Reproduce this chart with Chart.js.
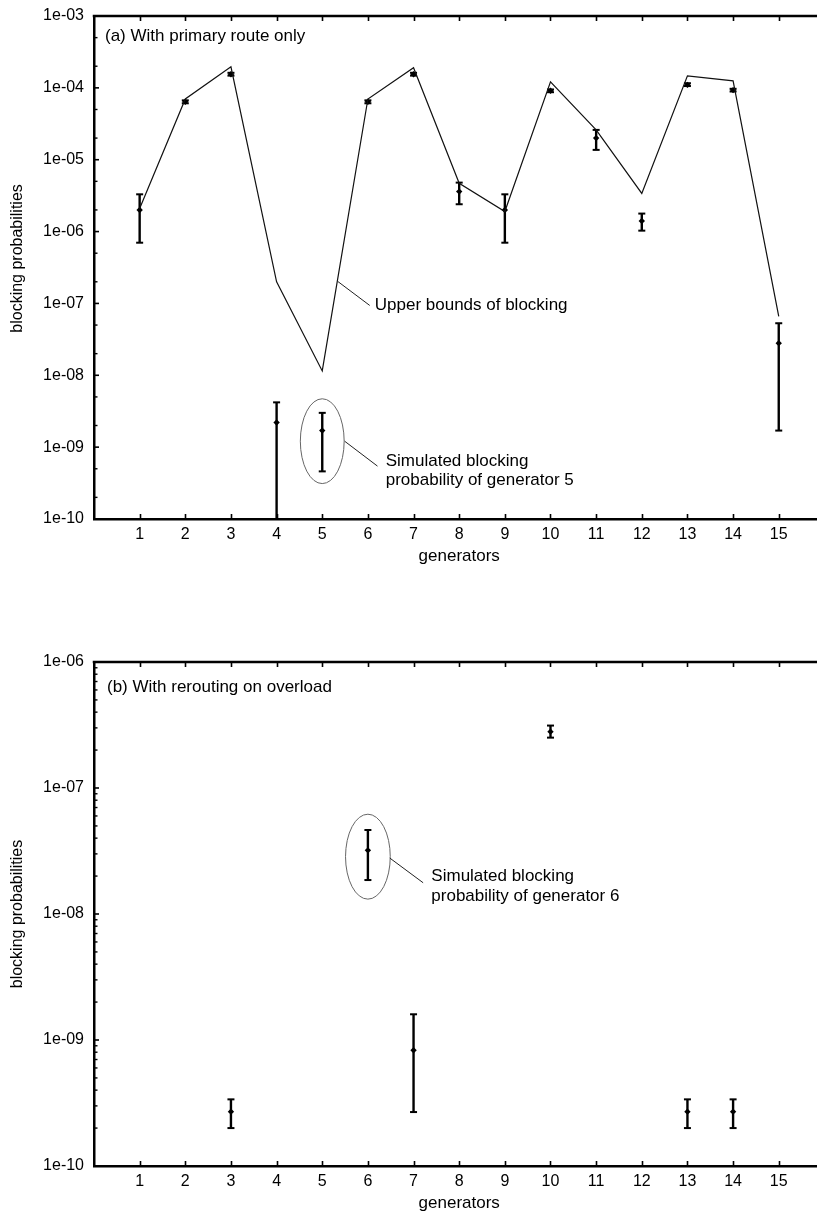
<!DOCTYPE html>
<html>
<head>
<meta charset="utf-8">
<script src="https://cdn.jsdelivr.net/npm/chart.js@4.4.1/dist/chart.umd.min.js"></script>
<style>
  html, body { margin: 0; padding: 0; background: #fff; overflow: hidden; }
  #wrap { position: relative; width: 817px; height: 1214px; overflow: hidden; }
  canvas { position: absolute; left: 0; }
</style>
</head>
<body>
<div id="wrap">
  <canvas id="chartA" width="822" height="600" style="top:0"></canvas>
  <canvas id="chartB" width="822" height="614" style="top:600px"></canvas>
</div>
<script>
// Generator indices on the x axis
const generators = [1, 2, 3, 4, 5, 6, 7, 8, 9, 10, 11, 12, 13, 14, 15];

// (a) primary route only: analytic upper bound and simulated blocking with confidence range
const boundA = [2.1e-6, 7.0e-5, 1.96e-4, 2.0e-7, 1.15e-8, 7.0e-5, 1.91e-4, 4.7e-6, 1.9e-6, 1.21e-4, 2.6e-5, 3.4e-6, 1.47e-4, 1.25e-4, 6.6e-8];
const simA   = [2.0e-6, 6.4e-5, 1.55e-4, 2.2e-9, 1.7e-9, 6.4e-5, 1.55e-4, 3.6e-6, 2.0e-6, 9.1e-5, 2.0e-5, 1.4e-6, 1.1e-4, 9.3e-5, 2.8e-8];
const lowA   = [7.0e-7, 6.1e-5, 1.48e-4, 1.0e-10, 4.6e-10, 6.1e-5, 1.48e-4, 2.4e-6, 7.0e-7, 8.7e-5, 1.37e-5, 1.03e-6, 1.06e-4, 8.9e-5, 1.7e-9];
const highA  = [3.3e-6, 6.7e-5, 1.62e-4, 4.2e-9, 3.0e-9, 6.7e-5, 1.62e-4, 4.8e-6, 3.3e-6, 9.5e-5, 2.6e-5, 1.78e-6, 1.16e-4, 9.7e-5, 5.3e-8];

// (b) rerouting on overload: only generators with observed blocking
const generatorsB = [3, 6, 7, 10, 13, 14];
const simB  = [2.7e-10, 3.2e-8, 8.3e-10, 2.8e-7, 2.7e-10, 2.7e-10];
const lowB  = [2.0e-10, 1.86e-8, 2.68e-10, 2.51e-7, 2.0e-10, 2.0e-10];
const highB = [3.38e-10, 4.64e-8, 1.6e-9, 3.13e-7, 3.38e-10, 3.38e-10];

// Axis ticks
const xTicks = [1, 2, 3, 4, 5, 6, 7, 8, 9, 10, 11, 12, 13, 14, 15];
const decadesA = [1e-10, 1e-9, 1e-8, 1e-7, 1e-6, 1e-5, 1e-4, 1e-3];
const decadesB = [1e-10, 1e-9, 1e-8, 1e-7, 1e-6];
const minorA = [2, 5];
const minorB = [2, 3, 4, 5, 6, 7, 8, 9];

const FONT = "'Liberation Sans', Arial, Helvetica, sans-serif";

function expLabel(v) {
  const e = Math.round(Math.log10(v));
  return '1e' + (e < 0 ? '-' : '+') + String(Math.abs(e)).padStart(2, '0');
}

// Error bars, frame ticks, annotations and axis titles
const decor = {
  id: 'decor',
  beforeDatasetsDraw(chart, args, o) {
    const { ctx } = chart;
    const xs = chart.scales.x, ys = chart.scales.y;
    ctx.save();
    ctx.strokeStyle = '#000';
    ctx.lineCap = 'butt';
    o.xs.forEach((g, i) => {
      const px = xs.getPixelForValue(g);
      const pLo = ys.getPixelForValue(o.low[i]);
      const pHi = ys.getPixelForValue(o.high[i]);
      ctx.lineWidth = 2.4;
      ctx.beginPath(); ctx.moveTo(px, pLo); ctx.lineTo(px, pHi); ctx.stroke();
      ctx.lineWidth = 2;
      [pLo, pHi].forEach(p => {
        ctx.beginPath(); ctx.moveTo(px - 3.5, p); ctx.lineTo(px + 3.5, p); ctx.stroke();
      });
    });
    ctx.restore();
  },
  afterDraw(chart, args, o) {
    const { ctx, chartArea: a } = chart;
    const xs = chart.scales.x, ys = chart.scales.y;
    ctx.save();
    ctx.strokeStyle = '#000';

    // top frame line
    ctx.lineWidth = 2.5;
    ctx.beginPath(); ctx.moveTo(a.left - 1.25, a.top); ctx.lineTo(a.right, a.top); ctx.stroke();

    // inward x ticks on bottom and top
    ctx.lineWidth = 1.6;
    xTicks.forEach(v => {
      const px = Math.round(xs.getPixelForValue(v)) + 0.5;
      ctx.beginPath(); ctx.moveTo(px, a.bottom); ctx.lineTo(px, a.bottom - 5); ctx.stroke();
      ctx.beginPath(); ctx.moveTo(px, a.top); ctx.lineTo(px, a.top + 5); ctx.stroke();
    });

    // inward y ticks: decades and minor steps
    o.decades.forEach((d, k) => {
      const py = ys.getPixelForValue(d);
      ctx.lineWidth = 1.6;
      ctx.beginPath(); ctx.moveTo(a.left, py); ctx.lineTo(a.left + 5, py); ctx.stroke();
      if (k < o.decades.length - 1) {
        o.minor.forEach(m => {
          const pm = ys.getPixelForValue(d * m);
          ctx.lineWidth = 1.4;
          ctx.beginPath(); ctx.moveTo(a.left, pm); ctx.lineTo(a.left + 3.5, pm); ctx.stroke();
        });
      }
    });

    // panel label
    ctx.fillStyle = '#000';
    ctx.font = '17px ' + FONT;
    ctx.textAlign = 'left';
    ctx.textBaseline = 'middle';
    ctx.fillText(o.label, a.left + o.labelDx, a.top + o.labelDy);

    // ellipse around a highlighted point
    const e = o.ellipse;
    const cx = xs.getPixelForValue(e.x);
    const cy = ys.getPixelForValue(Math.pow(10, e.logY));
    const rx = xs.getPixelForValue(e.x + e.rx) - cx;
    const ry = cy - ys.getPixelForValue(Math.pow(10, e.logY + e.ryDec));
    ctx.strokeStyle = '#666';
    ctx.lineWidth = 1;
    ctx.beginPath(); ctx.ellipse(cx, cy, rx, ry, 0, 0, Math.PI * 2); ctx.stroke();

    // leader lines and callout text
    ctx.strokeStyle = '#222';
    o.callouts.forEach(c => {
      ctx.beginPath();
      ctx.moveTo(xs.getPixelForValue(c.from[0]), ys.getPixelForValue(Math.pow(10, c.from[1])));
      ctx.lineTo(xs.getPixelForValue(c.to[0]), ys.getPixelForValue(Math.pow(10, c.to[1])));
      ctx.stroke();
      c.lines.forEach(t => {
        ctx.fillText(t[0], xs.getPixelForValue(c.textX), ys.getPixelForValue(Math.pow(10, t[1])));
      });
    });

    // axis titles
    ctx.font = '17px ' + FONT;
    ctx.textAlign = 'center';
    ctx.fillText('generators', xs.getPixelForValue(8), a.bottom + 37);
    ctx.save();
    ctx.translate(18, a.top + (a.bottom - a.top) * o.yTitleFrac);
    ctx.rotate(-Math.PI / 2);
    ctx.font = '16px ' + FONT;
    ctx.fillText('blocking probabilities', 0, 0);
    ctx.restore();

    ctx.restore();
  }
};

function makeScales(yMin, yMax, decades, xAxisHeight) {
  return {
    x: {
      type: 'linear', min: 0, max: 15.86,
      afterBuildTicks: s => { s.ticks = xTicks.map(v => ({ value: v })); },
      afterFit: s => { s.height = xAxisHeight; },
      ticks: { color: '#000', font: { family: FONT, size: 16 }, padding: 6, maxRotation: 0, autoSkip: false },
      grid: { display: false, drawTicks: false },
      border: { display: true, color: '#000', width: 2.5 }
    },
    y: {
      type: 'logarithmic', min: yMin, max: yMax,
      afterBuildTicks: s => { s.ticks = decades.map(v => ({ value: v })); },
      afterFit: s => { s.width = 94; },
      ticks: { color: '#000', font: { family: FONT, size: 16, lineHeight: 0.75 }, padding: 10, callback: v => expLabel(v), autoSkip: false },
      grid: { display: false, drawTicks: false },
      border: { display: true, color: '#000', width: 2.5 }
    }
  };
}

const common = {
  responsive: false,
  animation: false,
  devicePixelRatio: 1,
  events: []
};

new Chart(document.getElementById('chartA'), {
  type: 'scatter',
  data: {
    datasets: [
      {
        label: 'Upper bounds of blocking',
        data: generators.map((g, i) => ({ x: g, y: boundA[i] })),
        showLine: true, borderColor: '#111', borderWidth: 1.2,
        pointRadius: 0, fill: false, tension: 0
      },
      {
        label: 'Simulated blocking',
        data: generators.map((g, i) => ({ x: g, y: simA[i] })),
        pointStyle: 'rectRot', pointRadius: 3.2,
        backgroundColor: '#000', borderColor: '#000', borderWidth: 0
      }
    ]
  },
  options: Object.assign({}, common, {
    layout: { padding: { top: 9, left: 0, right: 0, bottom: 0 } },
    scales: makeScales(1e-10, 1e-3, decadesA, 81),
    plugins: {
      legend: { display: false },
      tooltip: { enabled: false },
      decor: {
        xs: generators, low: lowA, high: highA,
        decades: decadesA, minor: minorA,
        label: '(a) With primary route only', labelDx: 11, labelDy: 20,
        yTitleFrac: 0.482,
        ellipse: { x: 5, logY: -8.917, rx: 0.48, ryDec: 0.59 },
        callouts: [
          { from: [5.34, -6.694], to: [6.04, -7.028], textX: 6.15,
            lines: [['Upper bounds of blocking', -7.028]] },
          { from: [5.49, -8.917], to: [6.21, -9.264], textX: 6.39,
            lines: [['Simulated blocking', -9.194], ['probability of generator 5', -9.458]] }
        ]
      }
    }
  }),
  plugins: [decor]
});

new Chart(document.getElementById('chartB'), {
  type: 'scatter',
  data: {
    datasets: [
      {
        label: 'Simulated blocking',
        data: generatorsB.map((g, i) => ({ x: g, y: simB[i] })),
        pointStyle: 'rectRot', pointRadius: 3.2,
        backgroundColor: '#000', borderColor: '#000', borderWidth: 0
      }
    ]
  },
  options: Object.assign({}, common, {
    layout: { padding: { top: 62, left: 0, right: 0, bottom: 0 } },
    scales: makeScales(1e-10, 1e-6, decadesB, 48),
    plugins: {
      legend: { display: false },
      tooltip: { enabled: false },
      decor: {
        xs: generatorsB, low: lowB, high: highB,
        decades: decadesB, minor: minorB,
        label: '(b) With rerouting on overload', labelDx: 13, labelDy: 25,
        yTitleFrac: 0.5,
        ellipse: { x: 6, logY: -7.545, rx: 0.49, ryDec: 0.337 },
        callouts: [
          { from: [6.48, -7.556], to: [7.21, -7.752], textX: 7.39,
            lines: [['Simulated blocking', -7.702], ['probability of generator 6', -7.857]] }
        ]
      }
    }
  }),
  plugins: [decor]
});
</script>
</body>
</html>
